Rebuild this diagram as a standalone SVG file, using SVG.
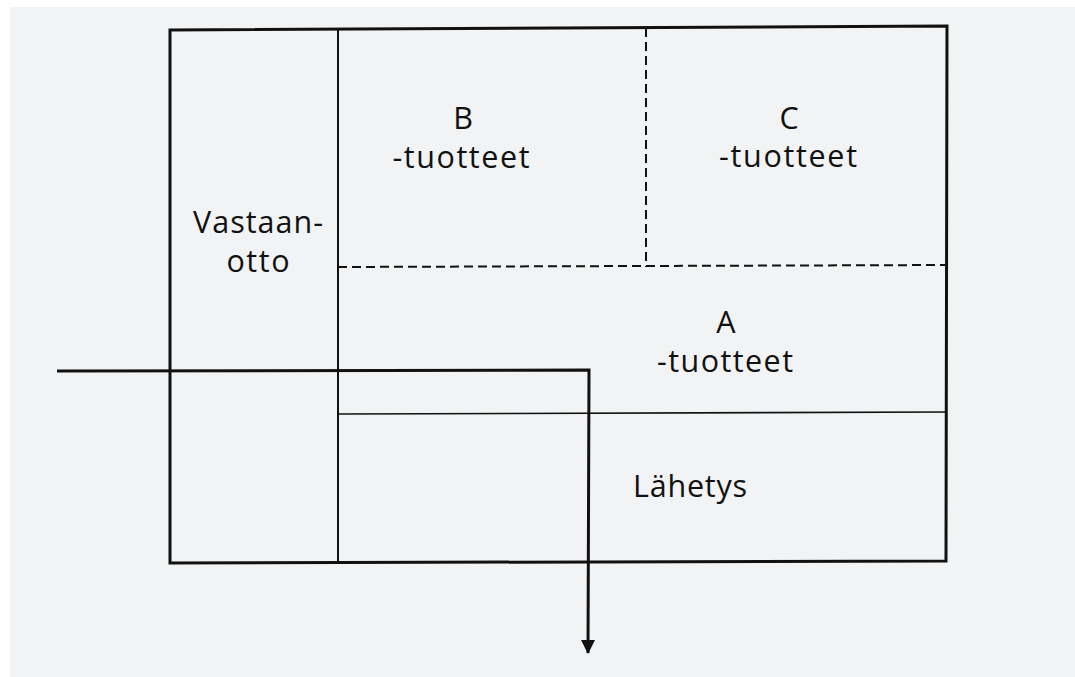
<svg xmlns="http://www.w3.org/2000/svg" width="1075" height="677" viewBox="0 0 1075 677">
  <defs>
    <style>
      .label { font-family: "Open Sans", "Noto Sans", "DejaVu Sans", sans-serif; font-size: 30.5px; fill: #111; text-anchor: middle; }
      .wall { fill: none; stroke: #111; stroke-width: 3; stroke-linejoin: miter; }
      .inner { fill: none; stroke: #111; stroke-width: 2; }
      .thin { fill: none; stroke: #111; stroke-width: 1.6; }
      .dash { fill: none; stroke: #111; stroke-width: 2; stroke-dasharray: 9 5; }
      .flow { fill: none; stroke: #111; stroke-width: 3; }
    </style>
    <marker id="arrow" viewBox="0 0 14 14" refX="13" refY="7" markerWidth="14" markerHeight="14" markerUnits="userSpaceOnUse" orient="auto">
      <path d="M0,0 L14,7 L0,14 Z" fill="#111"/>
    </marker>
  </defs>

  <!-- paper -->
  <rect x="0" y="0" width="1075" height="677" fill="#ffffff"/>
  <rect x="10" y="7" width="1065" height="670" fill="#f1f3f4"/>

  <!-- outer warehouse wall -->
  <g id="building">
    <path class="wall" d="M170,30 L947,26 L946,561 L170,563 Z"/>
  </g>

  <!-- receiving strip -->
  <g id="vastaanotto">
    <line class="inner" x1="338" y1="29" x2="338" y2="563"/>
    <text class="label" x="258" y="233" textLength="130" lengthAdjust="spacing">Vastaan-</text>
    <text class="label" x="258" y="272" textLength="63" lengthAdjust="spacing">otto</text>
  </g>

  <!-- B products -->
  <g id="b-tuotteet">
    <line class="dash" x1="646" y1="28" x2="646" y2="267"/>
    <text class="label" x="463" y="129">B</text>
    <text class="label" x="461" y="168" textLength="137" lengthAdjust="spacing">-tuotteet</text>
  </g>

  <!-- C products -->
  <g id="c-tuotteet">
    <line class="dash" x1="338" y1="267" x2="945" y2="265"/>
    <text class="label" x="789" y="129">C</text>
    <text class="label" x="788" y="167" textLength="138" lengthAdjust="spacing">-tuotteet</text>
  </g>

  <!-- A products -->
  <g id="a-tuotteet">
    <text class="label" x="726" y="333">A</text>
    <text class="label" x="725" y="372" textLength="136" lengthAdjust="spacing">-tuotteet</text>
  </g>

  <!-- dispatch -->
  <g id="lahetys">
    <line class="thin" x1="338" y1="414" x2="946" y2="412"/>
    <text class="label" x="690" y="497" textLength="114" lengthAdjust="spacing">Lähetys</text>
  </g>

  <!-- goods flow -->
  <g id="connectors">
    <path class="flow" d="M57,371 L589,370 L588,653" marker-end="url(#arrow)"/>
  </g>
</svg>
